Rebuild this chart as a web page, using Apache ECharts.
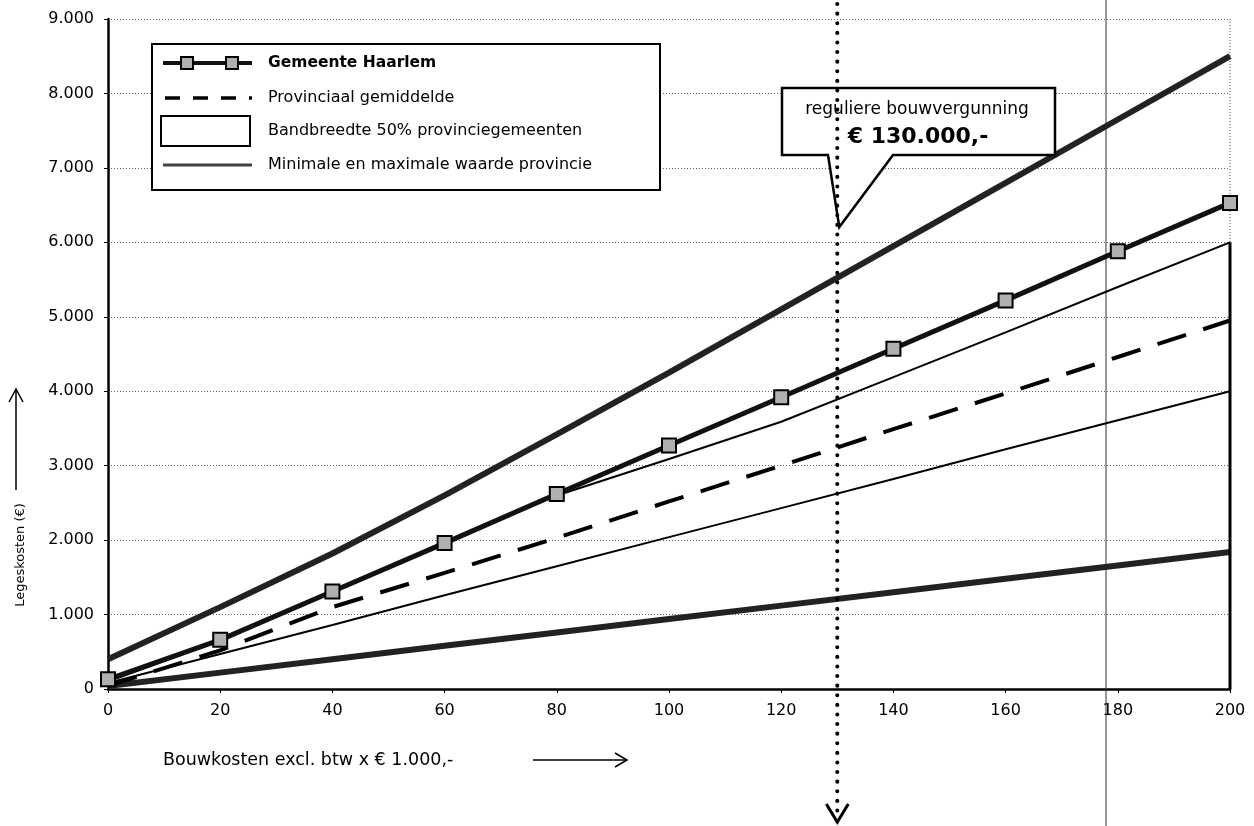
<!DOCTYPE html>
<html>
<head>
<meta charset="utf-8">
<script src="https://cdn.jsdelivr.net/npm/echarts@6/dist/echarts.min.js"></script>
<style>
html,body{margin:0;padding:0;background:#fff;}
#chart{width:1254px;height:826px;}
</style>
</head>
<body>
<div id="chart"></div>
<script>
// ---- data ----
const bouwkosten = [0, 20, 40, 60, 80, 100, 120, 140, 160, 180, 200];
const haarlem    = [130, 660, 1310, 1960, 2620, 3270, 3920, 4570, 5220, 5880, 6530];
const gemiddelde = [40, 520, 1100, 1560, 2030, 2520, 3000, 3490, 3970, 4460, 4950];
const bandBoven  = [100, 650, 1300, 1950, 2600, 3090, 3590, 4190, 4790, 5400, 6000];
const bandOnder  = [80, 470, 860, 1260, 1650, 2040, 2430, 2820, 3220, 3610, 4000];
const maximum    = [400, 1100, 1820, 2600, 3420, 4250, 5100, 5950, 6800, 7650, 8500];
const minimum    = [40, 220, 400, 580, 760, 940, 1120, 1300, 1480, 1660, 1840];
const markerX = 130;
const legendNames = ['Gemeente Haarlem', 'Provinciaal gemiddelde', 'Bandbreedte 50% provinciegemeenten', 'Minimale en maximale waarde provincie'];
const xTitle = 'Bouwkosten excl. btw x € 1.000,-';
const yTitle = 'Legeskosten (€)';
const calloutLine1 = 'reguliere bouwvergunning';
const calloutLine2 = '€ 130.000,-';

const pairs = arr => bouwkosten.map((x, i) => [x, arr[i]]);
const FONT = 'DejaVu Sans, Liberation Sans, sans-serif';

const chart = echarts.init(document.getElementById('chart'));
const option = {
  backgroundColor: '#fff',
  animation: false,
  grid: {left: 108, right: 24, top: 19, bottom: 137},
  xAxis: {
    type: 'value', min: 0, max: 200, interval: 20,
    axisLine: {show: true, onZero: false, lineStyle: {color: '#000', width: 2.5}},
    axisTick: {show: true, length: 4, lineStyle: {color: '#000'}},
    axisLabel: {color: '#000', fontSize: 16, fontFamily: FONT, margin: 14},
    splitLine: {show: false}
  },
  yAxis: {
    type: 'value', min: 0, max: 9000, interval: 1000,
    axisLine: {show: true, lineStyle: {color: '#000', width: 2.5}},
    axisTick: {show: true, length: 4, lineStyle: {color: '#000'}},
    axisLabel: {color: '#000', fontSize: 16, fontFamily: FONT, margin: 14,
      formatter: v => v === 0 ? '0' : (v / 1000).toFixed(3)},
    splitLine: {show: true, lineStyle: {color: '#666', width: 1, type: [1, 2]}}
  },
  series: [
    {name: 'min', type: 'line', data: pairs(minimum), symbol: 'none', z: 3,
      lineStyle: {color: '#222', width: 6}},
    {name: 'max', type: 'line', data: pairs(maximum), symbol: 'none', z: 3,
      lineStyle: {color: '#222', width: 6}},
    {name: 'bandOnder', type: 'line', data: pairs(bandOnder), symbol: 'none', z: 3,
      lineStyle: {color: '#000', width: 2}},
    {name: 'bandBoven', type: 'line', data: pairs(bandBoven), symbol: 'none', z: 3,
      lineStyle: {color: '#000', width: 2}},
    {name: 'bandRand', type: 'line', data: [[200, 0], [200, bandBoven[bandBoven.length - 1]]], symbol: 'none', z: 3,
      lineStyle: {color: '#000', width: 3}},
    {name: 'gemiddelde', type: 'line', data: pairs(gemiddelde), symbol: 'none', z: 4,
      lineStyle: {color: '#000', width: 4, type: [30, 18]}},
    {name: 'haarlem', type: 'line', data: pairs(haarlem), symbol: 'rect', symbolSize: 14, z: 5,
      lineStyle: {color: '#111', width: 5},
      itemStyle: {color: '#b0b0b0', borderColor: '#000', borderWidth: 2}}
  ]
};
chart.setOption(option);

// pixel helpers
const px = (x, y) => chart.convertToPixel({gridIndex: 0}, [x, y]);
const top9000 = px(200, 9000);
const c6000 = px(200, 6000);
const vx = px(markerX, 0)[0];

const legendY = [63, 98, 131, 165];
const txt = (x, y, text, extra) => Object.assign({type: 'text', x: x, y: y, z: 21,
  style: Object.assign({text: text, fontSize: 16, fontFamily: FONT, fill: '#000', textVerticalAlign: 'middle', verticalAlign: 'middle'}, extra || {})});
const graphics = [
  // right border (dotted, above band)
  {type: 'line', shape: {x1: top9000[0], y1: top9000[1], x2: c6000[0], y2: c6000[1]},
    style: {stroke: '#555', lineWidth: 1, lineDash: [1, 2]}, z: 2},
  // scan fold line
  {type: 'line', shape: {x1: 1106, y1: 0, x2: 1106, y2: 826},
    style: {stroke: '#333', lineWidth: 1}, z: 2},
  // legend box
  {type: 'rect', shape: {x: 152, y: 44, width: 508, height: 146},
    style: {fill: '#fff', stroke: '#000', lineWidth: 2}, z: 20},
  {type: 'line', shape: {x1: 163, y1: legendY[0], x2: 252, y2: legendY[0]},
    style: {stroke: '#111', lineWidth: 4}, z: 21},
  {type: 'rect', shape: {x: 181, y: legendY[0] - 6, width: 12, height: 12},
    style: {fill: '#b0b0b0', stroke: '#000', lineWidth: 2}, z: 22},
  {type: 'rect', shape: {x: 226, y: legendY[0] - 6, width: 12, height: 12},
    style: {fill: '#b0b0b0', stroke: '#000', lineWidth: 2}, z: 22},
  txt(268, legendY[0], legendNames[0], {fontWeight: 'bold', fontSize: 15.5}),
  {type: 'line', shape: {x1: 165, y1: legendY[1], x2: 252, y2: legendY[1]},
    style: {stroke: '#000', lineWidth: 3.5, lineDash: [15, 13]}, z: 21},
  txt(268, legendY[1], legendNames[1]),
  {type: 'rect', shape: {x: 161, y: legendY[2] - 15, width: 89, height: 30},
    style: {fill: '#fff', stroke: '#000', lineWidth: 2}, z: 21},
  txt(268, legendY[2], legendNames[2]),
  {type: 'line', shape: {x1: 163, y1: legendY[3], x2: 252, y2: legendY[3]},
    style: {stroke: '#444', lineWidth: 3}, z: 21},
  txt(268, legendY[3], legendNames[3]),
  // callout
  {type: 'polygon', shape: {points: [[782, 88], [1055, 88], [1055, 155], [893, 155], [vx + 2, 227], [828, 155], [782, 155]]},
    style: {fill: '#fff', stroke: '#000', lineWidth: 2.5}, z: 20},
  txt(917, 110, calloutLine1, {fontSize: 17, textAlign: 'center', align: 'center'}),
  txt(918, 137, calloutLine2, {fontSize: 22, fontWeight: 'bold', textAlign: 'center', align: 'center'}),
  // vertical dotted marker at 130
  {type: 'line', shape: {x1: vx, y1: 4, x2: vx, y2: 815},
    style: {stroke: '#000', lineWidth: 4, lineDash: [0.1, 9.5], lineCap: 'round'}, z: 25},
  {type: 'polyline', shape: {points: [[vx - 11, 804], [vx, 822], [vx + 11, 804]]},
    style: {stroke: '#000', lineWidth: 3, fill: null}, z: 25},
  // axis titles
  txt(163, 760, xTitle, {fontSize: 17.5}),
  {type: 'line', shape: {x1: 533, y1: 760, x2: 626, y2: 760}, style: {stroke: '#000', lineWidth: 1.5}, z: 21},
  {type: 'polyline', shape: {points: [[615, 753], [627, 760], [615, 767]]}, style: {stroke: '#000', lineWidth: 1.5, fill: null}, z: 21},
  Object.assign(txt(21, 555, yTitle, {fontSize: 13, textAlign: 'center', align: 'center'}), {rotation: Math.PI / 2}),
  {type: 'line', shape: {x1: 16, y1: 490, x2: 16, y2: 390}, style: {stroke: '#000', lineWidth: 1.5}, z: 21},
  {type: 'polyline', shape: {points: [[9, 402], [16, 389], [23, 402]]}, style: {stroke: '#000', lineWidth: 1.5, fill: null}, z: 21}
];
chart.setOption({graphic: graphics});
</script>
</body>
</html>
